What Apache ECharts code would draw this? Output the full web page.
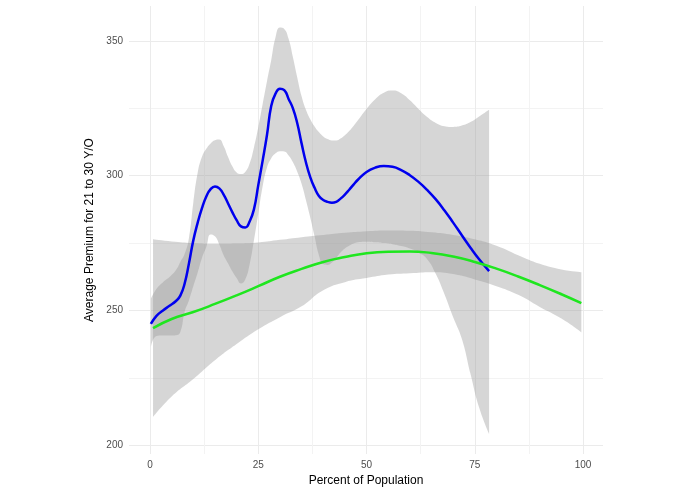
<!DOCTYPE html>
<html>
<head>
<meta charset="utf-8">
<script src="https://cdn.jsdelivr.net/npm/echarts@6/dist/echarts.min.js"></script>
<style>
  html, body { margin: 0; padding: 0; background: #fff; }
  #main { width: 695px; height: 494px; }
</style>
</head>
<body>
<div id="main"></div>
<script>
// loess fit (blue) with its confidence band
var blueX = [0.2, 1.5, 3, 4.5, 6, 7, 8, 9, 10, 11, 12, 13, 14, 15, 16, 17, 18, 19, 20, 21, 22, 23, 24, 25, 26, 27, 28, 29, 30, 31, 32, 33, 34, 35, 36, 37, 38, 39, 40, 41, 42, 43, 44, 45, 46, 47, 48, 50, 52, 54, 56, 58, 60, 62, 64, 66, 68, 70, 72, 74, 76, 78.3];
var blueFit = [245.0, 248.0, 250.0, 251.7, 253.5, 255.5, 260, 267.5, 276, 282.5, 288, 292.3, 295, 296, 295.3, 293, 289.8, 286.5, 283.5, 281.2, 280.8, 283, 287.5, 296.5, 305.5, 315, 326, 330.5, 332.3, 331.8, 328.5, 325, 319.5, 312, 305, 299.5, 295.5, 292.5, 291, 290.3, 290, 290.3, 291.5, 293, 294.8, 296.7, 298.5, 301.4, 303.0, 303.6, 303.3, 302.1, 300.2, 297.7, 294.7, 291.2, 287.1, 282.6, 277.9, 273.3, 269, 264.6];
var blueUpper = [254.3, 258, 260.5, 262.4, 265, 268, 271, 277, 290, 301, 307, 310, 312, 313.2, 313.4, 311, 307, 303.5, 301.2, 300.6, 301.4, 304.5, 310.5, 318, 326.5, 335, 343, 351.5, 355, 354.5, 350.8, 344, 336.5, 329.5, 324.5, 321, 318.3, 316.2, 314.6, 313.6, 313.1, 313.1, 313.8, 315, 316.6, 318.5, 320.6, 324.8, 328.4, 330.8, 331.6, 330.6, 328.0, 324.8, 321.8, 319.6, 318.4, 318.1, 318.6, 319.9, 322, 324.5];
var blueLower = [236.4, 240.5, 240.7, 240.7, 240.8, 242, 249.5, 253.8, 259, 264, 269.5, 273.5, 278.2, 277.5, 274.5, 270.5, 267.5, 264.5, 262, 260, 261.5, 267, 276, 286, 296, 303, 306.5, 308.3, 309.1, 309, 307.5, 305, 301.5, 297, 291, 284.5, 277.5, 270.5, 267.2, 266.9, 267.8, 269.5, 271.5, 273, 274, 274.8, 275.3, 275.5, 275.3, 275, 274.6, 273.9, 273, 271.5, 269, 263.5, 256, 247.5, 239.5, 226.5, 214, 204.2];

// quadratic fit (green) with its confidence band
var greenX = [0.7, 5, 10, 15, 20, 25, 30, 35, 40, 45, 50, 55, 60, 65, 70, 75, 80, 85, 90, 95, 99.6];
var greenFit = [243.4, 246.8, 249.4, 252.4, 255.6, 259, 262.5, 265.4, 268, 269.8, 271.2, 271.8, 271.9, 271.3, 270, 268, 265.5, 262.6, 259.4, 256, 252.7];
var greenUpper = [276.4, 275.6, 275, 274.7, 274.8, 275.2, 276.2, 277.2, 278, 278.8, 279.4, 279.7, 279.6, 279, 278, 276.4, 274, 270.5, 267.3, 265.2, 264.2];
var greenLower = [210.4, 218, 224.5, 231.5, 237.5, 243, 247.5, 251.5, 257.5, 260.5, 262, 263.3, 263.8, 264.2, 263.5, 261.5, 259, 255.8, 251.3, 247, 241.9];

var xTicks = [0, 25, 50, 75, 100];
var xMinor = [12.5, 37.5, 62.5, 87.5];
var yTicks = [200, 250, 300, 350];
var yMinor = [225, 275, 325];

function pairs(xs, ys) {
  return xs.map(function (x, i) { return [x, ys[i]]; });
}
// band rows are [value, x] so that the stack runs on the y value
function bandLow(xs, lo) {
  return xs.map(function (x, i) { return [lo[i], x]; });
}
function bandWidth(xs, lo, hi) {
  return xs.map(function (x, i) { return [hi[i] - lo[i], x]; });
}

var gridCol = '#ebebeb';
var labelStyle = { color: '#4d4d4d', fontSize: 10, fontFamily: 'Liberation Sans' };
var bandFill = { color: '#999999', opacity: 0.4 };

var myChart = echarts.init(document.getElementById('main'));

var option = {
  animation: false,
  grid: { left: 129, right: 92, top: 6, bottom: 40, outerBoundsMode: 'none' },
  xAxis: [{
    type: 'value', min: -4.85, max: 104.6,
    name: 'Percent of Population', nameLocation: 'middle', nameGap: 20,
    nameTextStyle: { color: '#000', fontSize: 12, fontFamily: 'Liberation Sans' },
    axisLine: { show: false },
    axisTick: { show: false, customValues: xTicks },
    axisLabel: Object.assign({ customValues: xTicks, margin: 6 }, labelStyle),
    splitLine: { show: true, lineStyle: { color: gridCol, width: 1 } }
  }, {
    type: 'value', min: -4.85, max: 104.6, position: 'bottom',
    axisLine: { show: false }, axisLabel: { show: false },
    axisTick: { show: false, customValues: xMinor },
    splitLine: { show: true, lineStyle: { color: '#f3f3f3', width: 1 } }
  }],
  yAxis: [{
    type: 'value', min: 196.7, max: 363,
    name: 'Average Premium for 21 to 30 Y/O', nameLocation: 'middle', nameGap: 21,
    nameTextStyle: { color: '#000', fontSize: 12, fontFamily: 'Liberation Sans' },
    axisLine: { show: false },
    axisTick: { show: false, customValues: yTicks },
    axisLabel: Object.assign({ customValues: yTicks, margin: 6 }, labelStyle),
    splitLine: { show: true, lineStyle: { color: gridCol, width: 1 } }
  }, {
    type: 'value', min: 196.7, max: 363, position: 'left',
    axisLine: { show: false }, axisLabel: { show: false },
    axisTick: { show: false, customValues: yMinor },
    splitLine: { show: true, lineStyle: { color: '#f3f3f3', width: 1 } }
  }],
  series: [
    {
      name: 'blueLow', type: 'line', stack: 'blueBand', smooth: true,
      data: bandLow(blueX, blueLower), encode: { x: 1, y: 0 },
      showSymbol: false, silent: true, lineStyle: { opacity: 0 }
    },
    {
      name: 'blueBand', type: 'line', stack: 'blueBand', smooth: true,
      data: bandWidth(blueX, blueLower, blueUpper), encode: { x: 1, y: 0 },
      showSymbol: false, silent: true, lineStyle: { opacity: 0 },
      areaStyle: bandFill
    },
    {
      name: 'greenLow', type: 'line', stack: 'greenBand', smooth: true,
      data: bandLow(greenX, greenLower), encode: { x: 1, y: 0 },
      showSymbol: false, silent: true, lineStyle: { opacity: 0 }
    },
    {
      name: 'greenBand', type: 'line', stack: 'greenBand', smooth: true,
      data: bandWidth(greenX, greenLower, greenUpper), encode: { x: 1, y: 0 },
      showSymbol: false, silent: true, lineStyle: { opacity: 0 },
      areaStyle: bandFill
    },
    {
      name: 'loess', type: 'line', smooth: true,
      data: pairs(blueX, blueFit), showSymbol: false,
      lineStyle: { color: '#0000ee', width: 2.5 }
    },
    {
      name: 'quadratic', type: 'line', smooth: true,
      data: pairs(greenX, greenFit), showSymbol: false,
      lineStyle: { color: '#1fe61f', width: 2.5 }
    }
  ]
};

myChart.setOption(option);
</script>
</body>
</html>
